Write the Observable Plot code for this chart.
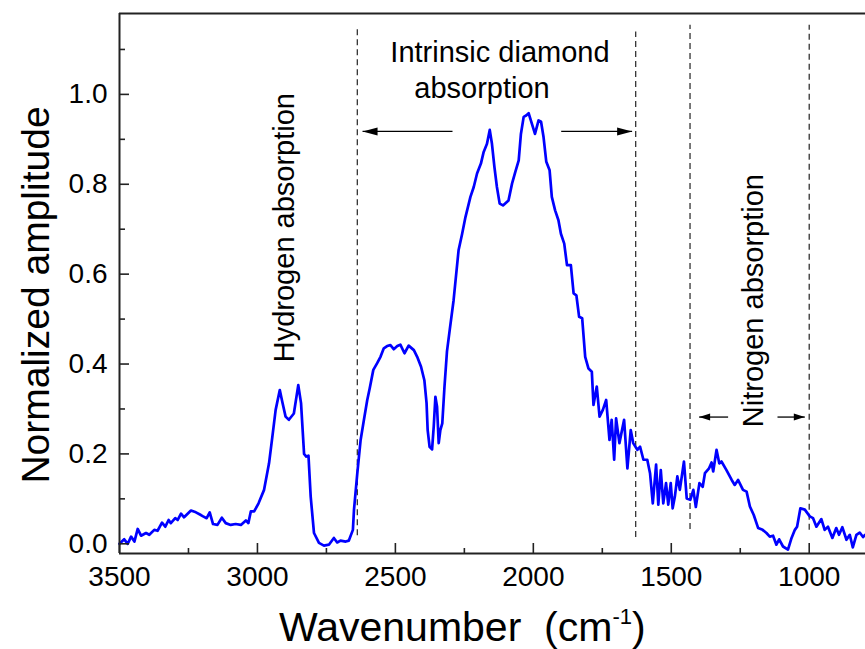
<!DOCTYPE html>
<html>
<head>
<meta charset="utf-8">
<script src="https://cdn.jsdelivr.net/npm/d3@7"></script>
<script src="https://cdn.jsdelivr.net/npm/@observablehq/plot@0.6"></script>
<style>
  html, body { margin: 0; padding: 0; background: #fff; }
  #chart svg { display: block; }
</style>
</head>
<body>
<div id="chart"></div>
<script>
// IR absorption spectrum of diamond: wavenumber (cm^-1) and normalized amplitude
const wavenumber = [
  3500, 3483, 3470, 3458, 3446, 3434, 3422, 3404, 3392, 3374, 3362, 3346, 3334, 3322, 3314, 3298,
  3289, 3277, 3266, 3241, 3223, 3205, 3197, 3184, 3173, 3161, 3145, 3129, 3115, 3097, 3079, 3060,
  3042, 3033, 3024, 3012, 2996, 2976, 2958, 2946, 2934, 2919, 2910, 2898, 2886, 2868, 2852, 2842,
  2831, 2823, 2815, 2807, 2795, 2777, 2759, 2741, 2723, 2711, 2699, 2680, 2669, 2654, 2650, 2638,
  2626, 2614, 2602, 2593, 2580, 2566, 2554, 2542, 2530, 2518, 2506, 2493, 2482, 2467, 2452, 2433,
  2421, 2407, 2395, 2387, 2383, 2376, 2367, 2361, 2355, 2349, 2343, 2337, 2330, 2322, 2313, 2303,
  2289, 2271, 2258, 2246, 2228, 2216, 2204, 2190, 2180, 2168, 2158, 2150, 2141, 2132, 2122, 2110,
  2090, 2077, 2065, 2053, 2045, 2035, 2026, 2017, 2009, 1994, 1981, 1972, 1963, 1953, 1941, 1933,
  1921, 1909, 1900, 1888, 1878, 1864, 1854, 1844, 1834, 1823, 1812, 1800, 1788, 1782, 1770, 1760,
  1748, 1736, 1724, 1716, 1707, 1700, 1688, 1671, 1659, 1647, 1638, 1623, 1613, 1601, 1587, 1577,
  1567, 1555, 1547, 1538, 1529, 1519, 1511, 1502, 1495, 1487, 1478, 1469, 1454, 1444, 1431, 1420,
  1411, 1398, 1386, 1378, 1363, 1354, 1348, 1336, 1326, 1318, 1300, 1281, 1270, 1258, 1240, 1227,
  1215, 1201, 1185, 1169, 1155, 1143, 1131, 1119, 1109, 1095, 1077, 1064, 1052, 1044, 1032, 1016,
  998, 986, 974, 956, 944, 932, 916, 902, 892, 880, 865, 853, 842, 829, 817, 805, 797
];
const amplitude = [
  0.000, 0.010, 0.000, 0.016, 0.005, 0.033, 0.018, 0.024, 0.020, 0.031, 0.029, 0.047, 0.038, 0.053, 0.046, 0.057,
  0.053, 0.067, 0.059, 0.074, 0.070, 0.064, 0.061, 0.057, 0.070, 0.044, 0.042, 0.058, 0.046, 0.042, 0.044, 0.042,
  0.052, 0.046, 0.072, 0.072, 0.090, 0.120, 0.179, 0.238, 0.298, 0.342, 0.316, 0.283, 0.276, 0.290, 0.353, 0.313,
  0.200, 0.194, 0.196, 0.105, 0.024, 0.002, -0.004, -0.002, 0.013, 0.003, 0.007, 0.005, 0.007, 0.031, 0.076, 0.157,
  0.231, 0.276, 0.320, 0.346, 0.387, 0.402, 0.416, 0.435, 0.440, 0.442, 0.433, 0.440, 0.443, 0.424, 0.441, 0.431,
  0.416, 0.394, 0.364, 0.313, 0.253, 0.216, 0.210, 0.261, 0.327, 0.305, 0.224, 0.253, 0.268, 0.350, 0.428, 0.476,
  0.542, 0.653, 0.690, 0.727, 0.772, 0.794, 0.824, 0.846, 0.872, 0.890, 0.921, 0.890, 0.838, 0.794, 0.757, 0.753,
  0.764, 0.802, 0.828, 0.853, 0.912, 0.950, 0.953, 0.958, 0.942, 0.912, 0.942, 0.939, 0.905, 0.850, 0.831, 0.772,
  0.742, 0.720, 0.690, 0.668, 0.620, 0.620, 0.557, 0.553, 0.505, 0.502, 0.416, 0.390, 0.383, 0.309, 0.350, 0.283,
  0.298, 0.320, 0.231, 0.276, 0.187, 0.279, 0.224, 0.276, 0.168, 0.253, 0.224, 0.209, 0.216, 0.187, 0.187, 0.157,
  0.090, 0.176, 0.087, 0.164, 0.090, 0.135, 0.087, 0.135, 0.079, 0.105, 0.150, 0.120, 0.183, 0.101, 0.098, 0.120,
  0.082, 0.135, 0.127, 0.157, 0.168, 0.181, 0.161, 0.209, 0.179, 0.183, 0.164, 0.142, 0.131, 0.142, 0.120, 0.116,
  0.083, 0.064, 0.035, 0.031, 0.024, 0.016, 0.018, -0.002, 0.010, -0.006, -0.013, 0.013, 0.031, 0.038, 0.079, 0.076,
  0.061, 0.057, 0.038, 0.055, 0.031, 0.038, 0.013, 0.035, 0.020, 0.037, 0.009, 0.020, -0.008, 0.020, 0.025, 0.015, 0.020
];

// Region boundaries (dashed lines)
const boundaryWavenumber = [2638, 1629, 1432, 1000];
const boundaryTop = [1.148, 1.139, 1.154, 1.154];
const boundaryBottom = [0.018, 0.014, 0.032, 0.030];

// Range arrows: tail and tip in wavenumber, at a given amplitude level
const arrowTail = [2293, 1899, 1294, 1115];
const arrowTip = [2619, 1642, 1399, 1016];
const arrowLevel = [0.9175, 0.9175, 0.282, 0.282];
const arrowSize = ["large", "large", "small", "small"];

// Region labels
const labelText = ["Hydrogen absorption", "Intrinsic diamond", "absorption", "Nitrogen absorption"];
const labelX = [2866, 2121, 2186, 1166];
const labelY = [0.404, 1.071, 0.993, 0.2595];
const labelRotate = [-90, 0, 0, -90];
const labelAnchor = ["start", "middle", "middle", "start"];

// Axis ticks
const xMajorTicks = [3500, 3000, 2500, 2000, 1500, 1000];
const xMinorTicks = [3250, 2750, 2250, 1750, 1250];
const yMajorTicks = [0, 0.2, 0.4, 0.6, 0.8, 1.0];
const yMinorTicks = [0.1, 0.3, 0.5, 0.7, 0.9, 1.1];
const xDomain = [3500, 796];
const yDomain = [-0.0216, 1.18];

const spectrum = wavenumber.map((w, i) => ({w, a: amplitude[i]}));
const boundaries = boundaryWavenumber.map((w, i) => ({w, top: boundaryTop[i], bottom: boundaryBottom[i]}));
const arrows = arrowTail.map((tail, i) => ({tail, tip: arrowTip[i], level: arrowLevel[i], size: arrowSize[i]}));
const labels = labelText.map((text, i) => ({text, x: labelX[i], y: labelY[i], rotate: labelRotate[i], anchor: labelAnchor[i]}));

// Filled arrowheads with the tip at the symbol origin, pointing right
const headLarge = {draw(ctx) { ctx.moveTo(0, 0); ctx.lineTo(-15, -4); ctx.lineTo(-15, 4); ctx.closePath(); }};
const headSmall = {draw(ctx) { ctx.moveTo(0, 0); ctx.lineTo(-11, -3.5); ctx.lineTo(-11, 3.5); ctx.closePath(); }};
const headRotate = (d) => (d.tip > d.tail ? 180 : 0);

const frameHeight = 649 - 13 - 96;
const frameWidth = 865 - 119 - 0;
const axisColor = "#222";

const textMark = (d) => Plot.text([d], {
  x: "x", y: "y", text: "text", rotate: d.rotate, textAnchor: d.anchor,
  lineAnchor: "bottom", fontSize: 29, fill: "#000"
});

const plot = Plot.plot({
  width: 865,
  height: 649,
  marginLeft: 119,
  marginRight: 0,
  marginTop: 13,
  marginBottom: 96,
  style: {
    fontFamily: "'Liberation Sans', Arial, Helvetica, sans-serif",
    fontSize: "28px",
    color: "#000",
    background: "#fff"
  },
  x: {domain: xDomain},
  y: {domain: yDomain},
  marks: [
    Plot.ruleX(boundaries, {x: "w", y1: "bottom", y2: "top", stroke: "#333", strokeWidth: 1.3, strokeDasharray: "6,4"}),
    Plot.line(spectrum, {x: "w", y: "a", stroke: "#0000ff", strokeWidth: 2.7, strokeLinejoin: "round"}),
    Plot.link(arrows, {x1: "tail", x2: "tip", y1: "level", y2: "level", stroke: "#000", strokeWidth: 1.3}),
    Plot.dot(arrows.filter((d) => d.size === "large"), {x: "tip", y: "level", symbol: headLarge, rotate: headRotate, fill: "#000", stroke: "none"}),
    Plot.dot(arrows.filter((d) => d.size === "small"), {x: "tip", y: "level", symbol: headSmall, rotate: headRotate, fill: "#000", stroke: "none"}),
    ...labels.map(textMark),
    // inward tick marks
    Plot.ruleX(xMajorTicks, {insetTop: frameHeight - 10, stroke: axisColor, strokeWidth: 1.6}),
    Plot.ruleX(xMinorTicks, {insetTop: frameHeight - 5, stroke: axisColor, strokeWidth: 1.6}),
    Plot.ruleY(yMajorTicks, {insetRight: frameWidth - 10, stroke: axisColor, strokeWidth: 1.6}),
    Plot.ruleY(yMinorTicks, {insetRight: frameWidth - 6, stroke: axisColor, strokeWidth: 1.6}),
    // tick labels
    Plot.axisX(xMajorTicks, {tickSize: 0, tickPadding: 13, tickFormat: (d) => String(d), fontSize: 28, label: null}),
    Plot.axisY(yMajorTicks, {tickSize: 0, tickPadding: 12, tickFormat: d3.format(".1f"), fontSize: 28, label: null}),
    // frame: left, bottom, top
    Plot.ruleX([xDomain[0]], {stroke: axisColor, strokeWidth: 2}),
    Plot.ruleY(yDomain, {stroke: axisColor, strokeWidth: 2})
  ]
});

// Axis titles
const svg = d3.select(plot);
svg.append("text")
  .attr("transform", "translate(49,295) rotate(-90)")
  .attr("text-anchor", "middle")
  .attr("font-size", 39)
  .attr("fill", "#000")
  .text("Normalized amplitude");

const xTitle = svg.append("text")
  .attr("x", 279)
  .attr("y", 641)
  .attr("text-anchor", "start")
  .attr("font-size", 41)
  .attr("fill", "#000")
  .style("white-space", "pre");
xTitle.append("tspan").text("Wavenumber  (cm");
xTitle.append("tspan").attr("font-size", 22).attr("dy", -17).text("-1");
xTitle.append("tspan").attr("dy", 17).text(")");

document.getElementById("chart").append(plot);
</script>
</body>
</html>
